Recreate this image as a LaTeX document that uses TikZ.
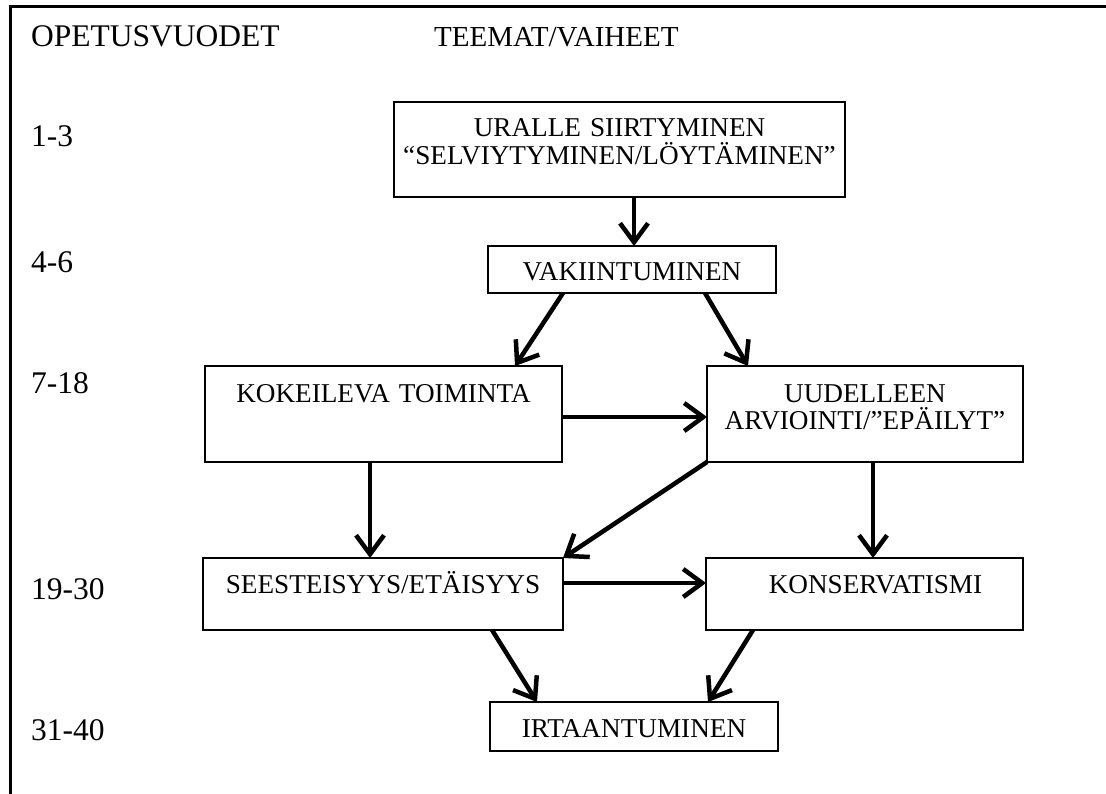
\documentclass[tikz,border=0pt]{standalone}
\usepackage{fontspec}
\setmainfont{Liberation Serif}
\usetikzlibrary{arrows.meta}
\begin{document}
\begin{tikzpicture}[x=1pt,y=-1pt,
  lbl/.style={anchor=base west, inner sep=0pt, font=\fontsize{31.5pt}{36pt}\selectfont},
  box/.style={draw, line width=2pt, anchor=north west, inner sep=0pt, outer sep=0pt,
    align=center, font=\fontsize{27.2pt}{28pt}\selectfont},
  arr/.style={line width=4.5pt, -{Straight Barb[length=19pt,width=28pt]},
    preaction={draw=black!35, transform canvas={xshift=1.3pt,yshift=-1.5pt}}}
]
\useasboundingbox (0,0) rectangle (1106,794);
\draw[line width=3pt] (10,794) -- (10,6.5) -- (1106,6.5);

% column heads and year labels
\node[lbl] (h1) at (31,47) {OPETUSVUODET};
\node[lbl, font=\fontsize{29pt}{34pt}\selectfont] (h2) at (434,47) {TEEMAT/VAIHEET};
\node[lbl] (y1) at (31,147) {1-3};
\node[lbl] (y2) at (31,273) {4-6};
\node[lbl] (y3) at (31,393) {7-18};
\node[lbl] (y4) at (31,599) {19-30};
\node[lbl] (y5) at (31,740) {31-40};

% boxes
\node[box, text width=451pt] (b1) at (394,102)
  {\rule{0pt}{35pt}URALLE SIIRTYMINEN\\“SELVIYTYMINEN/LÖYTÄMINEN”\rule[-32pt]{0pt}{32pt}};
\node[box, text width=288pt, text height=35pt, text depth=12pt] (b2) at (488,246)
  {VAKIINTUMINEN};
\node[box, text width=357pt, text height=36pt, text depth=60pt] (b3) at (205,366)
  {KOKEILEVA TOIMINTA};
\node[box, text width=316pt] (b4) at (707,366)
  {\rule{0pt}{36pt}UUDELLEEN\\ARVIOINTI/”EPÄILYT”\rule[-32pt]{0pt}{32pt}};
\node[box, text width=360pt, text height=35pt, text depth=37pt] (b5) at (203,558)
  {SEESTEISYYS/ETÄISYYS\hspace*{14pt}};
\node[box, text width=317pt, text height=35pt, text depth=37pt] (b6) at (706,558)
  {\hspace*{22pt}KONSERVATISMI};
\node[box, text width=288pt, text height=35pt, text depth=14pt] (b7) at (490,702)
  {IRTAANTUMINEN};

% connectors
\draw[arr] ([xshift=2pt]b2.north |- b1.south) -- ([xshift=2pt]b2.north);
\draw[arr] ([xshift=75pt]b2.south west) -- ([xshift=310pt]b3.north west);
\draw[arr] ([xshift=-71pt]b2.south east) -- ([xshift=41pt]b4.north west);
\draw[arr] ([yshift=-3pt]b3.east) -- ([yshift=-3pt]b3.east -| b4.west);
\draw[arr] ([xshift=165pt]b3.south west) -- ([xshift=165pt]b3.south west |- b5.north);
\draw[arr] (b4.south west) -- (b5.north east);
\draw[arr] ([xshift=8pt]b4.south west -| b4.south) -- ([xshift=8pt]b4.south |- b6.north);
\draw[arr] ([yshift=11pt]b5.east) -- ([yshift=11pt]b5.east -| b6.west);
\draw[arr] ([xshift=289pt]b5.south west) -- ([xshift=47pt]b7.north west);
\draw[arr] ([xshift=47pt]b6.south west) -- ([xshift=-70pt]b7.north east);
\end{tikzpicture}
\end{document}
